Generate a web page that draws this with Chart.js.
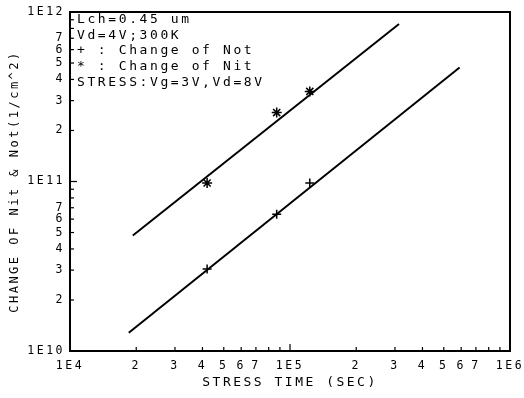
<!DOCTYPE html>
<html>
<head>
<meta charset="utf-8">
<style>
  html, body { margin: 0; padding: 0; background: #fff; }
  #wrap { width: 524px; height: 398px; }
</style>
<script src="https://cdn.jsdelivr.net/npm/chart.js@4.4.0/dist/chart.umd.min.js"></script>
</head>
<body>
<div id="wrap"><canvas id="chart" width="524" height="398"></canvas></div>
<script>
// Measured points (stress time in sec)
const stressTime = [4.2e4, 8.7e4, 1.23e5];
const nitValues = [9.8e10, 2.55e11, 3.4e11];
const notValues = [3.05e10, 6.4e10, 9.8e10];

// Fitted lines (end points)
const nitFitTime = [1.93e4, 3.13e5];
const nitFitValues = [4.8e10, 8.5e11];
const notFitTime = [1.85e4, 5.9e5];
const notFitValues = [1.28e10, 4.7e11];

// Axis decades and tick labels
const xDecades = [4, 5, 6];
const yDecades = [10, 11, 12];
const tickMantissas = [1, 2, 3, 4, 5, 6, 7, 8, 9];
const minorLabels = [2, 3, 4, 5, 6, 7];

// Annotation text in the plot
const noteLines = [
    'Lch=0.45 um',
    'Vd=4V;300K',
    '+ : Change of Not',
    '* : Change of Nit',
    'STRESS:Vg=3V,Vd=8V'
];

const FONT = '"DejaVu Sans Mono", monospace';
const SPACING = '2.5px';

function toPoints(xs, ys) {
    return xs.map((x, i) => ({ x: x, y: ys[i] }));
}

// 1..9 x 10^n for every decade, ending on the last decade
function logTicks(decades) {
    const out = [];
    decades.forEach((d, i) => {
        const last = i === decades.length - 1;
        (last ? [1] : tickMantissas).forEach(m => out.push({ value: m * Math.pow(10, d) }));
    });
    return out;
}

function mantissaOf(value) {
    const exp = Math.floor(Math.log10(value) + 1e-9);
    return { exp: exp, mant: Math.round(value / Math.pow(10, exp)) };
}

// "1E5" for decades, digit for 2..7, nothing for 8, 9
function logLabel(value) {
    const m = mantissaOf(value);
    if (m.mant === 1) return '1E' + m.exp;
    if (minorLabels.includes(m.mant)) return String(m.mant);
    return '';
}

// Plotter style spaced lettering for the axis texts
const spacingPlugin = {
    id: 'spacing',
    beforeUpdate(chart) { chart.ctx.letterSpacing = SPACING; },
    beforeDraw(chart) { chart.ctx.letterSpacing = SPACING; }
};

// Frame, inward tick marks and the note block
const framePlugin = {
    id: 'frame',
    afterDraw(chart) {
        const ctx = chart.ctx;
        const a = chart.chartArea;
        ctx.save();
        ctx.letterSpacing = '0px';
        ctx.globalAlpha = 1;
        ctx.setLineDash([]);
        ctx.strokeStyle = '#000000';
        ctx.lineWidth = 2;
        ctx.beginPath();
        ctx.moveTo(a.left, a.top);
        ctx.lineTo(a.right, a.top);
        ctx.lineTo(a.right, a.bottom);
        ctx.lineTo(a.left, a.bottom);
        ctx.closePath();
        ctx.stroke();

        ctx.lineWidth = 1.2;
        const xs = chart.scales.x;
        xs.ticks.forEach(t => {
            const px = xs.getPixelForValue(t.value);
            const len = mantissaOf(t.value).mant === 1 ? 7 : 4;
            ctx.beginPath();
            ctx.moveTo(px, a.bottom);
            ctx.lineTo(px, a.bottom - len);
            ctx.stroke();
        });
        const ys = chart.scales.y;
        ys.ticks.forEach(t => {
            const py = ys.getPixelForValue(t.value);
            const len = mantissaOf(t.value).mant === 1 ? 7 : 4;
            ctx.beginPath();
            ctx.moveTo(a.left, py);
            ctx.lineTo(a.left + len, py);
            ctx.stroke();
        });

        ctx.fillStyle = '#000';
        ctx.font = '13px ' + FONT;
        ctx.letterSpacing = '2.6px';
        ctx.textBaseline = 'middle';
        ctx.textAlign = 'left';
        noteLines.forEach((line, i) => {
            ctx.fillText(line, a.left + 7, a.top + 7.5 + i * 15.8);
        });
        ctx.restore();
    }
};

new Chart(document.getElementById('chart'), {
    type: 'scatter',
    data: {
        datasets: [
            {
                label: 'Nit fit',
                data: toPoints(nitFitTime, nitFitValues),
                showLine: true,
                borderColor: '#000',
                borderWidth: 2,
                pointRadius: 0
            },
            {
                label: 'Not fit',
                data: toPoints(notFitTime, notFitValues),
                showLine: true,
                borderColor: '#000',
                borderWidth: 2,
                pointRadius: 0
            },
            {
                label: 'Change of Nit',
                data: toPoints(stressTime, nitValues),
                pointStyle: 'star',
                pointRadius: 5,
                borderColor: '#000',
                borderWidth: 1.5,
                backgroundColor: '#000'
            },
            {
                label: 'Change of Not',
                data: toPoints(stressTime, notValues),
                pointStyle: 'cross',
                pointRadius: 4.5,
                borderColor: '#000',
                borderWidth: 1.5
            }
        ]
    },
    options: {
        responsive: false,
        animation: false,
        layout: { padding: { left: 0, right: 14, top: 12, bottom: 0 } },
        plugins: {
            legend: { display: false },
            tooltip: { enabled: false }
        },
        scales: {
            x: {
                type: 'logarithmic',
                min: Math.pow(10, xDecades[0]),
                max: Math.pow(10, xDecades[xDecades.length - 1]),
                grid: { display: false, drawTicks: false },
                border: { display: true, color: '#000', width: 1.5 },
                afterBuildTicks: s => { s.ticks = logTicks(xDecades); },
                afterFit: s => {
                    s.height = 47;
                    s.paddingLeft = 0;
                    s.paddingRight = 0;
                },
                ticks: {
                    autoSkip: false,
                    maxRotation: 0,
                    padding: 8,
                    color: '#000',
                    font: { family: FONT, size: 11.5 },
                    callback: v => logLabel(v)
                },
                title: {
                    display: true,
                    text: 'STRESS TIME (SEC)',
                    color: '#000',
                    font: { family: FONT, size: 13 },
                    padding: { top: 0, bottom: 8 }
                }
            },
            y: {
                type: 'logarithmic',
                min: Math.pow(10, yDecades[0]),
                max: Math.pow(10, yDecades[yDecades.length - 1]),
                grid: { display: false, drawTicks: false },
                border: { display: true, color: '#000', width: 1.5 },
                afterBuildTicks: s => { s.ticks = logTicks(yDecades); },
                afterFit: s => {
                    s.width = 70;
                    s.paddingTop = 0;
                    s.paddingBottom = 0;
                },
                ticks: {
                    autoSkip: false,
                    padding: 5,
                    color: '#000',
                    font: { family: FONT, size: 11.5 },
                    callback: v => logLabel(v)
                },
                title: {
                    display: true,
                    text: 'CHANGE OF Nit & Not(1/cm^2)',
                    color: '#000',
                    font: { family: FONT, size: 12 },
                    padding: { top: 8, bottom: 0 }
                }
            }
        }
    },
    plugins: [spacingPlugin, framePlugin]
});
</script>
</body>
</html>
